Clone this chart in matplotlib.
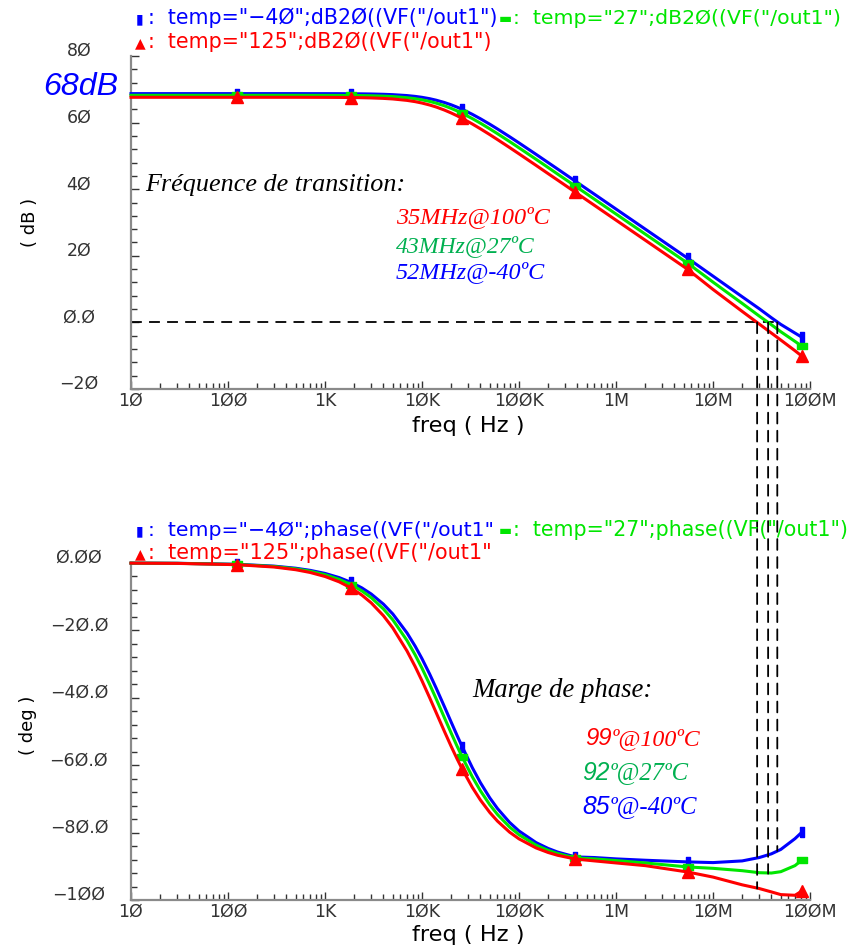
import matplotlib
matplotlib.use("Agg")
import matplotlib.pyplot as plt
from matplotlib.path import Path
from matplotlib.patches import ConnectionPatch
from matplotlib.ticker import LogLocator, MultipleLocator, NullFormatter

# ---------------- data ----------------
freq = [10, 30, 124, 300, 500, 700, 1e3, 1400, 1870, 2400, 3e3, 4e3, 5e3, 7e3, 8.5e3,
        1e4, 1.2e4, 1.4e4, 1.7e4, 2e4, 2.3e4, 2.6e4, 3.3e4, 4e4, 5e4, 6e4, 8e4, 1e5,
        1.5e5, 2e5, 2.5e5, 3.8e5, 6e5, 1e6, 2e6, 5.5e6, 1e7, 2e7, 3e7, 4e7, 5e7, 7e7, 8.3e7]

gain_m40 = [68.7, 68.7, 68.7, 68.7, 68.7, 68.69, 68.69, 68.68, 68.66, 68.63, 68.59, 68.5,
            68.39, 68.12, 67.87, 67.59, 67.18, 66.73, 66.04, 65.34, 64.64, 63.97, 62.49,
            61.16, 59.51, 58.09, 55.76, 53.90, 50.46, 47.98, 46.06, 42.43, 38.48, 34.04,
            28.02, 19.24, 13.9, 7.7, 4.1, 1.4, -0.6, -3.2, -4.5]
gain_27 = [68.2, 68.2, 68.2, 68.2, 68.2, 68.19, 68.18, 68.17, 68.14, 68.11, 68.06, 67.95,
           67.82, 67.48, 67.18, 66.84, 66.36, 65.84, 65.06, 64.27, 63.51, 62.78, 61.21,
           59.83, 58.12, 56.67, 54.31, 52.43, 48.98, 46.50, 44.55, 40.95, 36.99, 32.55,
           26.53, 17.74, 12.1, 5.7, 1.9, -0.7, -2.8, -5.7, -7.2]
gain_125 = [67.6, 67.6, 67.6, 67.6, 67.6, 67.59, 67.58, 67.56, 67.53, 67.48, 67.41, 67.27,
            67.1, 66.67, 66.29, 65.87, 65.28, 64.68, 63.77, 62.89, 62.05, 61.26, 59.59,
            58.14, 56.39, 54.9, 52.51, 50.62, 47.15, 44.66, 42.74, 39.11, 35.14, 30.71,
            24.69, 15.9, 9.9, 3.3, -0.5, -3.2, -5.3, -8.5, -10.2]

phase_m40 = [-0.03, -0.09, -0.38, -0.93, -1.55, -2.17, -3.09, -4.33, -5.77, -7.39, -9.21,
             -12.2, -15.12, -20.73, -24.68, -28.39, -32.97, -37.12, -42.58, -47.23, -51.18,
             -54.56, -60.72, -65.18, -69.70, -72.86, -76.98, -79.52, -82.97, -84.71, -85.77,
             -87.21, -87.4, -87.8, -88.2, -88.7, -88.9, -88.4, -87.4, -86.3, -85.0, -81.8, -79.8]
phase_27 = [-0.03, -0.10, -0.43, -1.04, -1.74, -2.43, -3.47, -4.85, -6.47, -8.28, -10.30,
            -13.63, -16.86, -22.99, -27.26, -31.22, -36.03, -40.31, -45.86, -50.48, -54.35,
            -57.6, -63.43, -67.58, -71.74, -74.62, -78.35, -80.63, -83.72, -85.28, -86.22,
            -87.51, -87.8, -88.3, -89.0, -90.2, -90.6, -91.3, -91.9, -92.0, -91.6, -89.8, -88.1]
phase_125 = [-0.04, -0.12, -0.50, -1.20, -2.0, -2.80, -4.0, -5.59, -7.45, -9.53, -11.85,
             -15.63, -19.27, -26.09, -30.73, -34.96, -40.0, -44.4, -49.93, -54.44, -58.13,
             -61.19, -66.57, -70.33, -74.04, -76.6, -79.87, -81.86, -84.55, -85.91, -86.73,
             -87.84, -88.4, -89.0, -89.8, -91.7, -93.2, -95.5, -96.6, -97.6, -98.4, -98.6, -97.3]

marker_idx = [2, 8, 21, 31, 35, 42]

x_ticks = [10, 100, 1e3, 1e4, 1e5, 1e6, 1e7, 1e8]
x_labels = ["1Ø", "1ØØ", "1K", "1ØK", "1ØØK", "1M", "1ØM", "1ØØM"]
gain_ticks = [80, 60, 40, 20, 0, -20]
gain_labels = ["8Ø", "6Ø", "4Ø", "2Ø", "Ø.Ø", "−2Ø"]
phase_ticks = [0, -20, -40, -60, -80, -100]
phase_labels = ["Ø.ØØ", "−2Ø.Ø", "−4Ø.Ø", "−6Ø.Ø", "−8Ø.Ø", "−1ØØ"]

crossing_freq = [28.5e6, 37e6, 46e6]     # red, green, blue 0 dB crossings
crossing_phase = [-96.6, -92.2, -85.4]

# ---------------- figure ----------------
W, H = 850, 946
fig = plt.figure(figsize=(W / 100, H / 100), dpi=100)
fig.patch.set_facecolor("white")

BLUE, GREEN, RED = "#0000ff", "#00e600", "#ff0000"
TXT_GREEN = "#00b050"

ax1 = fig.add_axes([131 / W, 1 - 389 / H, 679 / W, 333 / H])
ax2 = fig.add_axes([131 / W, 1 - 900 / H, 679 / W, 337 / H])

rect_v = Path([(-0.4, -1), (0.4, -1), (0.4, 1), (-0.4, 1), (-0.4, -1)])
rect_h = Path([(-1, -0.6), (1, -0.6), (1, 0.6), (-1, 0.6), (-1, -0.6)])

def style_axis(ax, yticks, ylabels, ylim, pad_y):
    ax.set_xscale("log")
    ax.set_xlim(10, 1e8)
    ax.set_ylim(*ylim)
    for s in ("top", "right"):
        ax.spines[s].set_visible(False)
    for s in ("left", "bottom"):
        ax.spines[s].set_color("#8a8a8a")
        ax.spines[s].set_linewidth(1.6)
    ax.set_xticks(x_ticks, x_labels, fontsize=12.5, family="DejaVu Sans")
    ax.xaxis.set_minor_locator(LogLocator(base=10, subs=range(2, 10), numticks=20))
    ax.xaxis.set_minor_formatter(NullFormatter())
    ax.set_yticks(yticks, ylabels, fontsize=12.5, family="DejaVu Sans",
                  ha="center", va="baseline")
    ax.yaxis.set_minor_locator(MultipleLocator(4))
    ax.tick_params(which="both", direction="in", colors="#333333", width=1.0)
    ax.tick_params(which="major", length=6)
    ax.tick_params(which="minor", length=4)
    ax.tick_params(axis="x", which="major", pad=2)
    ax.tick_params(axis="y", which="major", pad=pad_y)
    ax.patch.set_alpha(0)

style_axis(ax1, gain_ticks, gain_labels, (-20, 80), 37.5)
style_axis(ax2, phase_ticks, phase_labels, (-100, 0), 37.5)

series = [
    (gain_m40, phase_m40, BLUE, rect_v, 7),
    (gain_27, phase_27, GREEN, rect_h, 7),
    (gain_125, phase_125, RED, "^", 8),
]
for g, p, c, m, ms in series:
    ax1.plot(freq, g, color=c, lw=2.2, marker=m, ms=ms, markevery=marker_idx,
             clip_on=False, zorder=3)
    ax2.plot(freq, p, color=c, lw=2.2, marker=m, ms=ms, markevery=marker_idx,
             clip_on=False, zorder=3)

# dashed construction lines
dash = (0, (6, 4))
ax1.hlines(0, 10, crossing_freq[-1], colors="k", linestyles=dash, lw=1.3, zorder=2)
for cf, cp in zip(crossing_freq, crossing_phase):
    con = ConnectionPatch(xyA=(cf, 0), coordsA=ax1.transData,
                          xyB=(cf, cp), coordsB=ax2.transData,
                          color="k", lw=1.3, linestyle=dash, zorder=2)
    fig.add_artist(con)

renderer = fig.canvas.get_renderer()

def fit_text(x0, x1, yc, s, color, va="center", **kw):
    t = fig.text(x0 / W, 1 - yc / H, s, color=color, ha="left", va=va, fontsize=12, **kw)
    w = t.get_window_extent(renderer).width
    t.set_fontsize(12 * (x1 - x0) / w)
    return t

def fit_mixed(x0, x1, yb, parts, color):
    texts, widths = [], []
    for s, fam in parts:
        t = fig.text(0, 1 - yb / H, s, color=color, ha="left", va="baseline",
                     fontsize=12, family=fam, style="italic")
        texts.append(t)
        widths.append(t.get_window_extent(renderer).width)
    sc = (x1 - x0) / sum(widths)
    x = x0
    for t, w in zip(texts, widths):
        t.set_fontsize(12 * sc)
        t.set_x(x / W)
        x += w * sc

# legends
leg_font = dict(family="DejaVu Sans")
legend_rows = [
    (18, 140, "▮", BLUE, ':  temp="−4Ø";dB2Ø((VF("/out1")', 497),
    (18, 505, "▬", GREEN, ':  temp="27";dB2Ø((VF("/out1")', 840),
    (42, 140, "▲", RED, ':  temp="125";dB2Ø((VF("/out1")', 492),
    (530, 140, "▮", BLUE, ':  temp="−4Ø";phase((VF("/out1"', 492),
    (530, 505, "▬", GREEN, ':  temp="27";phase((VF("/out1")', 848),
    (553, 140, "▲", RED, ':  temp="125";phase((VF("/out1"', 492),
]
for y, xm, glyph, col, s, xend in legend_rows:
    fig.text(xm / W, 1 - (y + 1) / H, glyph, color=col, ha="center", va="center",
             fontsize=10, family="DejaVu Sans")
    fit_text(xm + 8, xend, y, s, col, **leg_font)

# axis titles
fit_text(412, 524, 426, "freq ( Hz )", "black", **leg_font)
fit_text(412, 524, 935, "freq ( Hz )", "black", **leg_font)
fig.text(30 / W, 1 - 222 / H, "( dB )", rotation=90, ha="center", va="center",
         fontsize=13, family="DejaVu Sans")
fig.text(28 / W, 1 - 725 / H, "( deg )", rotation=90, ha="center", va="center",
         fontsize=13, family="DejaVu Sans")

# annotations
fit_text(43, 118, 87, "68dB", BLUE, family="Liberation Sans", style="italic")
fit_text(145, 405, 185, "Fréquence de transition:", "black",
         family="Liberation Serif", style="italic")
fit_text(396, 550, 217, "35MHz@100ºC", RED, family="Liberation Serif", style="italic")
fit_text(396, 535, 246, "43MHz@27ºC", TXT_GREEN, family="Liberation Serif", style="italic")
fit_text(396, 545, 272, "52MHz@-40ºC", BLUE, family="Liberation Serif", style="italic")
fit_text(472, 652, 690, "Marge de phase:", "black", family="Liberation Serif", style="italic")
fit_mixed(585, 700, 745, [("99", "Liberation Sans"), ("º@100ºC", "Liberation Serif")], RED)
fit_mixed(582, 688, 780, [("92", "Liberation Sans"), ("º@27ºC", "Liberation Serif")], TXT_GREEN)
fit_mixed(582, 697, 814, [("85", "Liberation Sans"), ("º@-40ºC", "Liberation Serif")], BLUE)

fig.savefig("out.png", dpi=100)
